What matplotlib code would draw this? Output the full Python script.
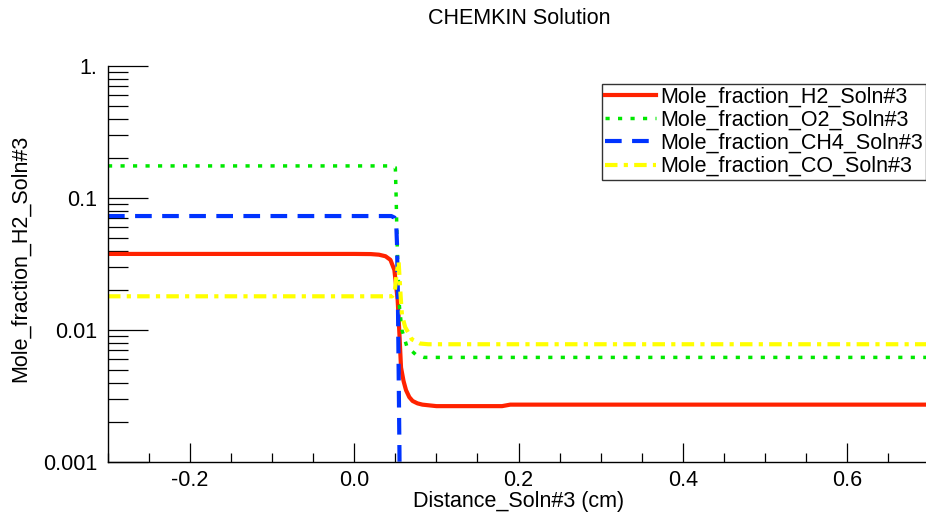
import numpy as np
import matplotlib
matplotlib.use("Agg")
import matplotlib.pyplot as plt
from matplotlib.ticker import MultipleLocator, LogLocator, FixedLocator, FixedFormatter, NullFormatter

plt.rcParams['font.family'] = ['Liberation Sans', 'DejaVu Sans']

# distance (cm) and mole fractions
h2_x = [-0.3, 0.0, 0.02, 0.03, 0.038, 0.044, 0.0488, 0.0528, 0.0549, 0.0569, 0.060, 0.063, 0.067, 0.071, 0.077, 0.083, 0.10, 0.18, 0.19, 0.7]
h2_y = [0.0377, 0.0377, 0.0376, 0.0372, 0.0362, 0.034, 0.0285, 0.017, 0.0095, 0.0052, 0.0041, 0.0035, 0.0031, 0.0029, 0.00278, 0.00272, 0.00265, 0.00265, 0.00272, 0.00272]

o2_x = [-0.3, 0.045, 0.050, 0.051, 0.052, 0.053, 0.055, 0.058, 0.064, 0.075, 0.085, 0.7]
o2_y = [0.175, 0.175, 0.17, 0.10, 0.05, 0.03, 0.015, 0.010, 0.0075, 0.0065, 0.0062, 0.0062]

ch4_x = [-0.3, 0.045, 0.049, 0.051, 0.052, 0.053, 0.054, 0.055, 0.056]
ch4_y = [0.073, 0.073, 0.071, 0.065, 0.045, 0.02, 0.005, 0.0012, 0.0001]

co_x = [-0.3, 0.046, 0.049, 0.052, 0.054, 0.056, 0.058, 0.062, 0.066, 0.070, 0.080, 0.090, 0.7]
co_y = [0.018, 0.018, 0.019, 0.028, 0.033, 0.02, 0.013, 0.0105, 0.0095, 0.0085, 0.0079, 0.0078, 0.0078]

labels = ['Mole_fraction_H2_Soln#3', 'Mole_fraction_O2_Soln#3',
          'Mole_fraction_CH4_Soln#3', 'Mole_fraction_CO_Soln#3']

fs = 15.5

fig = plt.figure(figsize=(9.26, 5.15), dpi=100)
ax = fig.add_axes([108 / 926, 1 - 462 / 515, 821 / 926, 396 / 515])

ax.plot(h2_x, h2_y, color='#ff2200', lw=3.0, label=labels[0])
ax.plot(o2_x, o2_y, color='#00e800', lw=2.5, linestyle=(0, (1.2, 2.4)), label=labels[1])
ax.plot(ch4_x, ch4_y, color='#0033ff', lw=3.0, linestyle=(0, (4, 2.5)), label=labels[2])
ax.plot(co_x, co_y, color='#ffff00', lw=3.0, linestyle=(0, (3, 1.5, 1, 1.5)), label=labels[3])

ax.set_yscale('log')
ax.set_xlim(-0.3, 0.7)
ax.set_ylim(0.001, 1.0)

ax.spines['top'].set_visible(False)
ax.spines['right'].set_visible(False)
for s in ['left', 'bottom']:
    ax.spines[s].set_linewidth(1.0)

ax.xaxis.set_major_locator(FixedLocator([-0.2, 0.0, 0.2, 0.4, 0.6]))
ax.xaxis.set_major_formatter(FixedFormatter(['-0.2', '0.0', '0.2', '0.4', '0.6']))
ax.xaxis.set_minor_locator(MultipleLocator(0.05))
ax.yaxis.set_major_locator(FixedLocator([0.001, 0.01, 0.1, 1.0]))
ax.yaxis.set_major_formatter(FixedFormatter(['0.001', '0.01', '0.1', '1.']))
ax.yaxis.set_minor_locator(LogLocator(base=10, subs=np.arange(2, 10)))
ax.yaxis.set_minor_formatter(NullFormatter())

ax.tick_params(axis='y', which='major', direction='in', length=29, width=0.9, pad=8, labelsize=fs)
ax.tick_params(axis='y', which='minor', direction='in', length=14.5, width=0.9)
ax.tick_params(axis='x', which='major', direction='in', length=14, width=0.9, pad=6, labelsize=fs)
ax.tick_params(axis='x', which='minor', direction='in', length=6.5, width=0.9)

ax.set_xlabel('Distance_Soln#3 (cm)', fontsize=fs, labelpad=0)
ax.set_ylabel('Mole_fraction_H2_Soln#3', fontsize=fs)
ax.yaxis.set_label_coords((31 - 108) / 821, (462 - 258) / 396)
fig.text(519 / 926, 1 - 18 / 515, 'CHEMKIN Solution', ha='center', va='center', fontsize=fs)

leg = ax.legend(loc='upper right', bbox_to_anchor=(926 / 926, 1 - 84 / 515),
                bbox_transform=fig.transFigure, fontsize=fs, frameon=True,
                fancybox=False, borderaxespad=0, borderpad=0.12, labelspacing=0.1,
                handlelength=2.4, handletextpad=0.2)
leg.get_frame().set_edgecolor('black')
leg.get_frame().set_linewidth(1.0)

fig.savefig('out.png', dpi=100)
